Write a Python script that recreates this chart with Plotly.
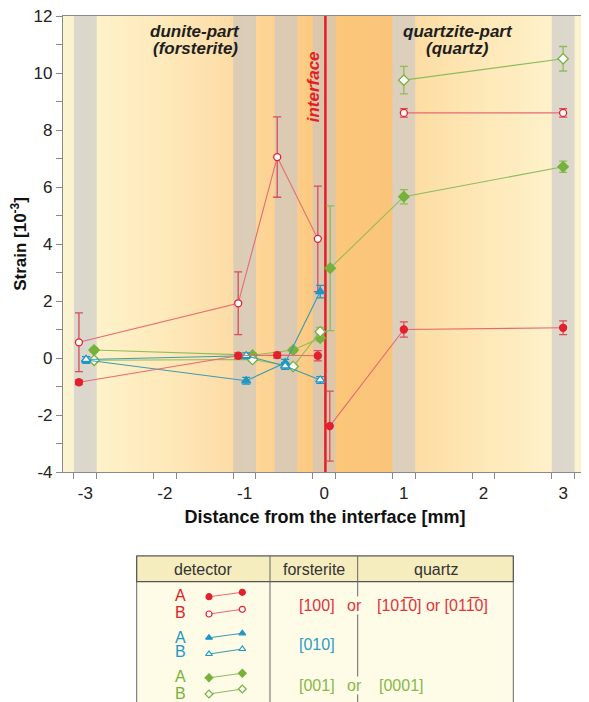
import plotly.graph_objects as go

# ---------------- data (strain, 10^-3) ----------------
# red : forsterite [100] / quartz [10-10] or [01-10]
red_a_dun_x = [-3.08, -1.08, -0.59, -0.08]
red_a_dun_y = [-0.85, 0.08, 0.10, 0.08]
red_a_dun_e = [0.08, 0.10, 0.10, 0.18]
red_a_qtz_x = [0.07, 1.0, 3.0]
red_a_qtz_y = [-2.39, 1.00, 1.06]
red_a_qtz_e = [1.23, 0.27, 0.24]
red_b_dun_x = [-3.08, -1.08, -0.59, -0.08]
red_b_dun_y = [0.55, 1.92, 7.05, 4.18]
red_b_dun_e = [1.03, 1.10, 1.41, 1.85]
red_b_qtz_x = [1.0, 3.0]
red_b_qtz_y = [8.60, 8.60]
red_b_qtz_e = [0.15, 0.15]
# blue : forsterite [010]
blue_a_x = [-2.99, -0.98, -0.49, -0.05]
blue_a_y = [-0.07, -0.80, -0.17, 2.33]
blue_a_e = [0.12, 0.12, 0.12, 0.22]
blue_b_x = [-2.99, -0.98, -0.49, -0.05]
blue_b_y = [-0.05, 0.08, -0.28, -0.77]
blue_b_e = [0.10, 0.10, 0.12, 0.12]
# green : forsterite [001] / quartz [0001]
green_a_dun_x = [-2.89, -0.90, -0.39, -0.05]
green_a_dun_y = [0.28, 0.10, 0.28, 0.70]
green_a_dun_e = [0.08, 0.08, 0.08, 0.12]
green_a_qtz_x = [0.075, 1.0, 3.0]
green_a_qtz_y = [3.15, 5.66, 6.71]
green_a_qtz_e = [2.19, 0.25, 0.20]
green_b_dun_x = [-2.89, -0.90, -0.39, -0.05]
green_b_dun_y = [-0.08, -0.05, -0.30, 0.92]
green_b_dun_e = [0.08, 0.08, 0.08, 0.15]
green_b_qtz_x = [1.0, 3.0]
green_b_qtz_y = [9.75, 10.50]
green_b_qtz_e = [0.48, 0.43]

x_ticks = [-3, -2, -1, 0, 1, 2, 3]
y_ticks = [-4, -2, 0, 2, 4, 6, 8, 10, 12]
measure_positions = [-3, -1, -0.48, 0, 1, 3]   # grey measurement bands
interface_x = 0.015

# ---------------- style ----------------
FONT = "Liberation Sans, Arial, sans-serif"
RED, RED_LINE, RED_ERR = "#E3202B", "#E66A72", "#DB4C58"
BLUE, BLUE_LINE = "#1F97C6", "#3E9BAE"
GREEN, GREEN_LINE = "#76B23A", "#8CBD5C"
AXIS = "#8a8a8a"
XR = [-3.28, 3.30]
YR = [-4, 12]
OFF = 8                      # page body margin of the html
W, H = 589 - OFF, 702 - OFF
ML, MR, MT = 63 - OFF, 2, 16 - OFF
PLOT_BOTTOM = 472 - OFF
ydom0 = (H - PLOT_BOTTOM) / (H - MT)

fig = go.Figure()


def add_series(x, y, e, color, linecolor, errcolor, symbol, filled, size=7):
    fig.add_trace(go.Scatter(
        x=x, y=y, mode="lines+markers",
        line=dict(color=linecolor, width=1.1),
        marker=dict(symbol=symbol, size=size,
                    color=color if filled else "white",
                    line=dict(color=color, width=1.3)),
        error_y=dict(type="data", array=e, visible=True, color=errcolor,
                     thickness=1.3, width=4),
        showlegend=False, hoverinfo="skip"))


add_series(red_b_dun_x, red_b_dun_y, red_b_dun_e, RED, RED_LINE, RED_ERR, "circle", False)
add_series(red_b_qtz_x, red_b_qtz_y, red_b_qtz_e, RED, RED_LINE, RED_ERR, "circle", False)
add_series(green_b_qtz_x, green_b_qtz_y, green_b_qtz_e, GREEN, GREEN_LINE, GREEN_LINE, "diamond", False, 8)
add_series(green_a_qtz_x, green_a_qtz_y, green_a_qtz_e, GREEN, GREEN_LINE, GREEN_LINE, "diamond", True, 8)
add_series(red_a_qtz_x, red_a_qtz_y, red_a_qtz_e, RED, RED_LINE, RED_ERR, "circle", True)
add_series(green_a_dun_x, green_a_dun_y, green_a_dun_e, GREEN, GREEN_LINE, GREEN_LINE, "diamond", True, 8)
add_series(green_b_dun_x, green_b_dun_y, green_b_dun_e, GREEN, GREEN_LINE, GREEN_LINE, "diamond", False, 8)
add_series(blue_a_x, blue_a_y, blue_a_e, BLUE, BLUE_LINE, BLUE, "triangle-up", True, 8)
add_series(blue_b_x, blue_b_y, blue_b_e, BLUE, BLUE_LINE, BLUE, "triangle-up", False, 8)
add_series(red_a_dun_x, red_a_dun_y, red_a_dun_e, RED, RED_LINE, RED_ERR, "circle", True)

# dummy trace so the tick-only overlay axis is drawn
fig.add_trace(go.Scatter(x=[XR[0]], y=[YR[0]], xaxis="x2", mode="markers",
                         marker=dict(opacity=0), showlegend=False, hoverinfo="skip"))

shapes = []
# ---- background gradient ----
stops = [(-3.30, (251, 243, 210)), (-3.00, (251, 241, 205)), (-2.86, (254, 242, 202)),
         (-2.00, (254, 233, 186)), (-1.14, (253, 220, 166)), (-1.13, (253, 214, 152)),
         (-0.86, (253, 214, 152)), (-0.62, (253, 210, 146)), (-0.34, (253, 205, 137)),
         (-0.14, (252, 201, 128)), (0.14, (252, 199, 122)), (0.86, (250, 196, 123)),
         (0.87, (253, 221, 163)), (1.14, (253, 221, 163)), (2.00, (254, 232, 184)),
         (2.86, (254, 241, 202)), (3.14, (252, 242, 206)), (3.32, (252, 243, 211))]


def col_at(x):
    for (x0, c0), (x1, c1) in zip(stops[:-1], stops[1:]):
        if x0 <= x <= x1:
            t = (x - x0) / (x1 - x0)
            return "rgb(%d,%d,%d)" % tuple(round(a + (b - a) * t) for a, b in zip(c0, c1))
    return "rgb(%d,%d,%d)" % (stops[-1][1] if x > 0 else stops[0][1])


step = 0.02
n = int((XR[1] - XR[0]) / step) + 2
for i in range(n):
    x0 = XR[0] + i * step
    shapes.append(dict(type="rect", xref="x", yref="y domain", x0=x0, x1=x0 + step * 1.6,
                       y0=0, y1=1, fillcolor=col_at(x0 + step / 2), line=dict(width=0),
                       layer="below"))
for c in measure_positions:
    shapes.append(dict(type="rect", xref="x", yref="y domain", x0=c - 0.143, x1=c + 0.143,
                       y0=0, y1=1, fillcolor="rgba(198,198,204,0.6)", line=dict(width=0),
                       layer="below"))
shapes.append(dict(type="line", xref="x", yref="y domain", x0=interface_x, x1=interface_x,
                   y0=0, y1=1, line=dict(color="#E31E26", width=2.5), layer="below"))

# ---- legend table (screen-pixel coordinates on hidden axes x3/y3) ----
TL, TR, TT, THB, TB = 136.7, 513.3, 556, 581.7, 712
C1, C2 = 270, 357.7
shapes += [
    dict(type="rect", xref="x3", yref="y3", x0=TL, x1=TR, y0=TT, y1=TB, layer="below",
         fillcolor="#FEFCE6", line=dict(color="#666", width=1)),
    dict(type="rect", xref="x3", yref="y3", x0=TL, x1=TR, y0=TT, y1=THB, layer="below",
         fillcolor="#F6EDBE", line=dict(color="#555", width=1.2)),
    dict(type="line", xref="x3", yref="y3", x0=C1, x1=C1, y0=TT, y1=TB, layer="below",
         line=dict(color="#666", width=1)),
    dict(type="line", xref="x3", yref="y3", x0=C2, x1=C2, y0=TT, y1=TB, layer="below",
         line=dict(color="#666", width=1)),
]

legend_rows = [
    (RED, RED_LINE, "circle", 596.7, 592.3, 614, 609.3, 595, 612),
    (BLUE, BLUE_LINE, "triangle-up", 637.7, 633.3, 654, 649, 637.3, 651.7),
    (GREEN, GREEN_LINE, "diamond", 677.7, 673.3, 694, 689, 676.7, 693.3),
]
annotations = []
for color, lcol, sym, ya0, ya1, yb0, yb1, ta, tb in legend_rows:
    for (y0, y1, filled) in [(ya0, ya1, True), (yb0, yb1, False)]:
        fig.add_trace(go.Scatter(
            x=[209, 242.3], y=[y0, y1], xaxis="x3", yaxis="y3", mode="lines+markers",
            line=dict(color=lcol, width=1.1),
            marker=dict(symbol=sym, size=6, color=color if filled else "white",
                        line=dict(color=color, width=1.2)),
            showlegend=False, hoverinfo="skip"))
    annotations.append(dict(xref="x3", yref="y3", x=180, y=ta, text="A", showarrow=False,
                            font=dict(family=FONT, size=16, color=color)))
    annotations.append(dict(xref="x3", yref="y3", x=180, y=tb, text="B", showarrow=False,
                            font=dict(family=FONT, size=16, color=color)))

TXT = "#333333"
annotations += [
    dict(xref="x3", yref="y3", x=203, y=569.5, text="detector", showarrow=False,
         font=dict(family=FONT, size=16, color=TXT)),
    dict(xref="x3", yref="y3", x=313.5, y=569.5, text="forsterite", showarrow=False,
         font=dict(family=FONT, size=16, color=TXT)),
    dict(xref="x3", yref="y3", x=435.5, y=569.5, text="quartz", showarrow=False,
         font=dict(family=FONT, size=16, color=TXT)),
    dict(xref="x3", yref="y3", x=297, y=605, xanchor="left", text="[100]", showarrow=False,
         font=dict(family=FONT, size=16, color="#E2333F")),
    dict(xref="x3", yref="y3", x=346, y=605, xanchor="left", text="or", showarrow=False,
         bgcolor="#FEFCE6", borderpad=0, font=dict(family=FONT, size=16, color="#E2333F")),
    dict(xref="x3", yref="y3", x=375, y=605, xanchor="left",
         text="[101\u03050] or [011\u03050]", showarrow=False,
         font=dict(family=FONT, size=16, color="#E2333F")),
    dict(xref="x3", yref="y3", x=297, y=644, xanchor="left", text="[010]", showarrow=False,
         font=dict(family=FONT, size=16, color="#2E9CC7")),
    dict(xref="x3", yref="y3", x=297, y=685, xanchor="left", text="[001]", showarrow=False,
         font=dict(family=FONT, size=16, color="#86B84A")),
    dict(xref="x3", yref="y3", x=346, y=685, xanchor="left", text="or", showarrow=False,
         bgcolor="#FEFCE6", borderpad=0, font=dict(family=FONT, size=16, color="#86B84A")),
    dict(xref="x3", yref="y3", x=376.7, y=685, xanchor="left", text="[0001]", showarrow=False,
         font=dict(family=FONT, size=16, color="#86B84A")),
]

# ---- in-plot labels ----
LAB = "#1e1e1e"
annotations += [
    dict(xref="x", yref="y", x=-1.62, y=11.45, text="<b><i>dunite-part</i></b>", showarrow=False,
         font=dict(family=FONT, size=17, color=LAB)),
    dict(xref="x", yref="y", x=-1.62, y=10.87, text="<b><i>(forsterite)</i></b>", showarrow=False,
         font=dict(family=FONT, size=17, color=LAB)),
    dict(xref="x", yref="y", x=1.68, y=11.45, text="<b><i>quartzite-part</i></b>", showarrow=False,
         font=dict(family=FONT, size=17, color=LAB)),
    dict(xref="x", yref="y", x=1.68, y=10.87, text="<b><i>(quartz)</i></b>", showarrow=False,
         font=dict(family=FONT, size=17, color=LAB)),
    dict(xref="x", yref="y", x=-0.14, y=9.5, text="<b><i>interface</i></b>", textangle=-90,
         showarrow=False, font=dict(family=FONT, size=17, color="#E31E26")),
]

fig.update_layout(
    width=W, height=H,
    margin=dict(l=ML, r=MR, t=MT, b=0, pad=0, autoexpand=False),
    paper_bgcolor="white", plot_bgcolor="white",
    font=dict(family=FONT, color="#222"),
    shapes=shapes, annotations=annotations,
    xaxis=dict(range=XR, domain=[0, 1], anchor="y", tickvals=x_ticks, automargin=False,
               ticktext=[str(v) for v in x_ticks], ticks="outside", ticklen=5,
               tickcolor="rgba(0,0,0,0)", showline=True, linecolor=AXIS, linewidth=1.2,
               mirror=True, showgrid=False, zeroline=False,
               tickfont=dict(family=FONT, size=17, color="#222"),
               title=dict(text="<b>Distance from the interface [mm]</b>", standoff=8,
                          font=dict(family=FONT, size=18, color="#111"))),
    xaxis2=dict(range=XR, overlaying="x", anchor="y", side="bottom", automargin=False,
                tickvals=[v + d for v in x_ticks for d in (-0.143, 0.143)],
                ticks="outside", ticklen=6, tickwidth=1, tickcolor=AXIS,
                showticklabels=False, showline=False, showgrid=False, zeroline=False),
    yaxis=dict(range=YR, domain=[ydom0, 1], anchor="x", tickvals=y_ticks, automargin=False,
               ticktext=[str(v) for v in y_ticks], ticklabeloverflow="allow",
               ticks="outside", ticklen=6, tickwidth=1, tickcolor=AXIS,
               minor=dict(dtick=1, tick0=0, ticks="outside", ticklen=6, tickcolor=AXIS, showgrid=False),
               showline=True, linecolor=AXIS, linewidth=1.2, mirror="ticks",
               showgrid=False, zeroline=False,
               tickfont=dict(family=FONT, size=17, color="#222"),
               title=dict(text="<b>Strain [10<sup>-3</sup>]</b>", standoff=8,
                          font=dict(family=FONT, size=17, color="#111"))),
    xaxis3=dict(range=[ML + OFF, W - MR + OFF], domain=[0, 1], anchor="y3", visible=False,
                fixedrange=True),
    yaxis3=dict(range=[H + OFF, PLOT_BOTTOM + OFF], domain=[0, ydom0], anchor="x3",
                visible=False, fixedrange=True),
)

fig.write_html("out.html")
